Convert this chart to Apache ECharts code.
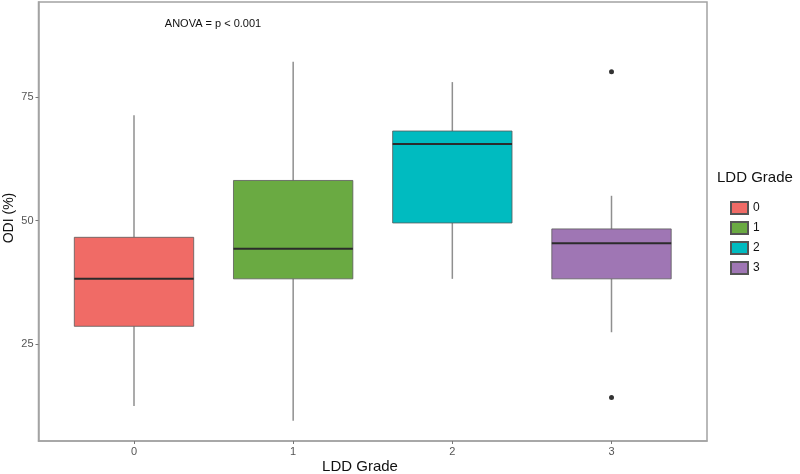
<!DOCTYPE html>
<html>
<head>
<meta charset="utf-8">
<script src="https://cdn.jsdelivr.net/npm/echarts@6/dist/echarts.min.js"></script>
<style>html,body{margin:0;padding:0;background:#fff;}#c{width:800px;height:474px;}</style>
</head>
<body>
<div id="c"></div>
<script>
const categories = ['0', '1', '2', '3'];
const lowerWhisker = [12.5, 9.5, 38.2, 27.4];
const q1 = [28.6, 38.2, 49.5, 38.2];
const median = [38.2, 44.3, 65.5, 45.4];
const q3 = [46.6, 58.1, 68.1, 48.3];
const upperWhisker = [71.3, 82.1, 78.0, 55.0];
const outlierGroup = [3, 3];
const outlierValue = [80.1, 14.2];
const yTicks = [25, 50, 75];
const colors = ['#F06B66', '#6AAA42', '#00BBC0', '#9F76B4'];

const chart = echarts.init(document.getElementById('c'), null, {renderer: 'canvas'});

function renderBox(params, api) {
  const x = api.value(0);
  const lo = api.coord([x, api.value(1)]);
  const b1 = api.coord([x, api.value(2)]);
  const md = api.coord([x, api.value(3)]);
  const b3 = api.coord([x, api.value(4)]);
  const hi = api.coord([x, api.value(5)]);
  const w = api.size([0.75, 0])[0];
  const fill = api.visual('color');
  const wStyle = {stroke: '#8f8f8f', lineWidth: 1.5};
  return {
    type: 'group',
    children: [
      {type: 'line', shape: {x1: hi[0], y1: hi[1], x2: b3[0], y2: b3[1]}, style: wStyle},
      {type: 'line', shape: {x1: b1[0], y1: b1[1], x2: lo[0], y2: lo[1]}, style: wStyle},
      {type: 'rect', shape: {x: md[0] - w / 2, y: b3[1], width: w, height: b1[1] - b3[1]},
        style: {fill: fill, stroke: '#5a5a5a', lineWidth: 0.8}},
      {type: 'line', shape: {x1: md[0] - w / 2, y1: md[1], x2: md[0] + w / 2, y2: md[1]},
        style: {stroke: '#2b2b2b', lineWidth: 2}}
    ]
  };
}

const series = categories.map((c, i) => ({
  name: c,
  type: 'custom',
  renderItem: renderBox,
  itemStyle: {color: colors[i], borderColor: '#555', borderWidth: 1},
  encode: {x: 0, y: [1, 2, 3, 4, 5]},
  data: [[i, lowerWhisker[i], q1[i], median[i], q3[i], upperWhisker[i]]],
  z: 2
}));
series.push({
  name: 'outliers',
  type: 'scatter',
  symbolSize: 5,
  itemStyle: {color: '#000'},
  data: outlierGroup.map((g, i) => [g, outlierValue[i]]),
  z: 3
});

chart.setOption({
  animation: false,
  backgroundColor: '#ffffff',
  grid: {left: 38.5, right: 93, top: 2, bottom: 33, show: true, borderColor: '#a3a3a3', borderWidth: 1.5,
    containLabel: false, outerBoundsMode: 'none'},
  xAxis: {
    type: 'value', min: -0.6, max: 3.6,
    axisLine: {show: true, onZero: false, lineStyle: {color: '#a3a3a3', width: 1.5}},
    axisTick: {show: true, customValues: [0, 1, 2, 3], length: 3, lineStyle: {color: '#777'}},
    axisLabel: {customValues: [0, 1, 2, 3], formatter: v => categories[Math.round(v)], color: '#555', fontSize: 11, fontFamily: 'Liberation Sans', margin: 5},
    splitLine: {show: false}
  },
  yAxis: {
    type: 'value', min: 5.4, max: 94.2,
    axisLine: {show: true, onZero: false, lineStyle: {color: '#a3a3a3', width: 1.5}},
    axisTick: {show: true, customValues: yTicks, length: 3, lineStyle: {color: '#777'}},
    axisLabel: {customValues: yTicks, color: '#555', fontSize: 11, fontFamily: 'Liberation Sans', margin: 5},
    splitLine: {show: false}
  },
  legend: {
    data: categories,
    orient: 'vertical', left: 725, top: 196,
    icon: 'rect', itemWidth: 17, itemHeight: 12, itemGap: 6,
    textStyle: {color: '#111', fontSize: 12, fontFamily: 'Liberation Sans'}
  },
  graphic: [
    {type: 'text', left: 717, top: 170, style: {text: 'LDD Grade', fill: '#111', font: '15px "Liberation Sans"'}},
    {type: 'text', x: 360, y: 467, style: {text: 'LDD Grade', fill: '#111', font: '15px "Liberation Sans"', align: 'center', verticalAlign: 'middle'}},
    {type: 'text', x: 9, y: 218, rotation: Math.PI / 2, style: {text: 'ODI (%)', fill: '#111', font: '14px "Liberation Sans"', align: 'center', verticalAlign: 'middle'}},
    {type: 'text', x: 213, y: 24, style: {text: 'ANOVA = p < 0.001', fill: '#111', font: '11px "Liberation Sans"', align: 'center', verticalAlign: 'middle'}}
  ],
  series: series
});
</script>
</body>
</html>
